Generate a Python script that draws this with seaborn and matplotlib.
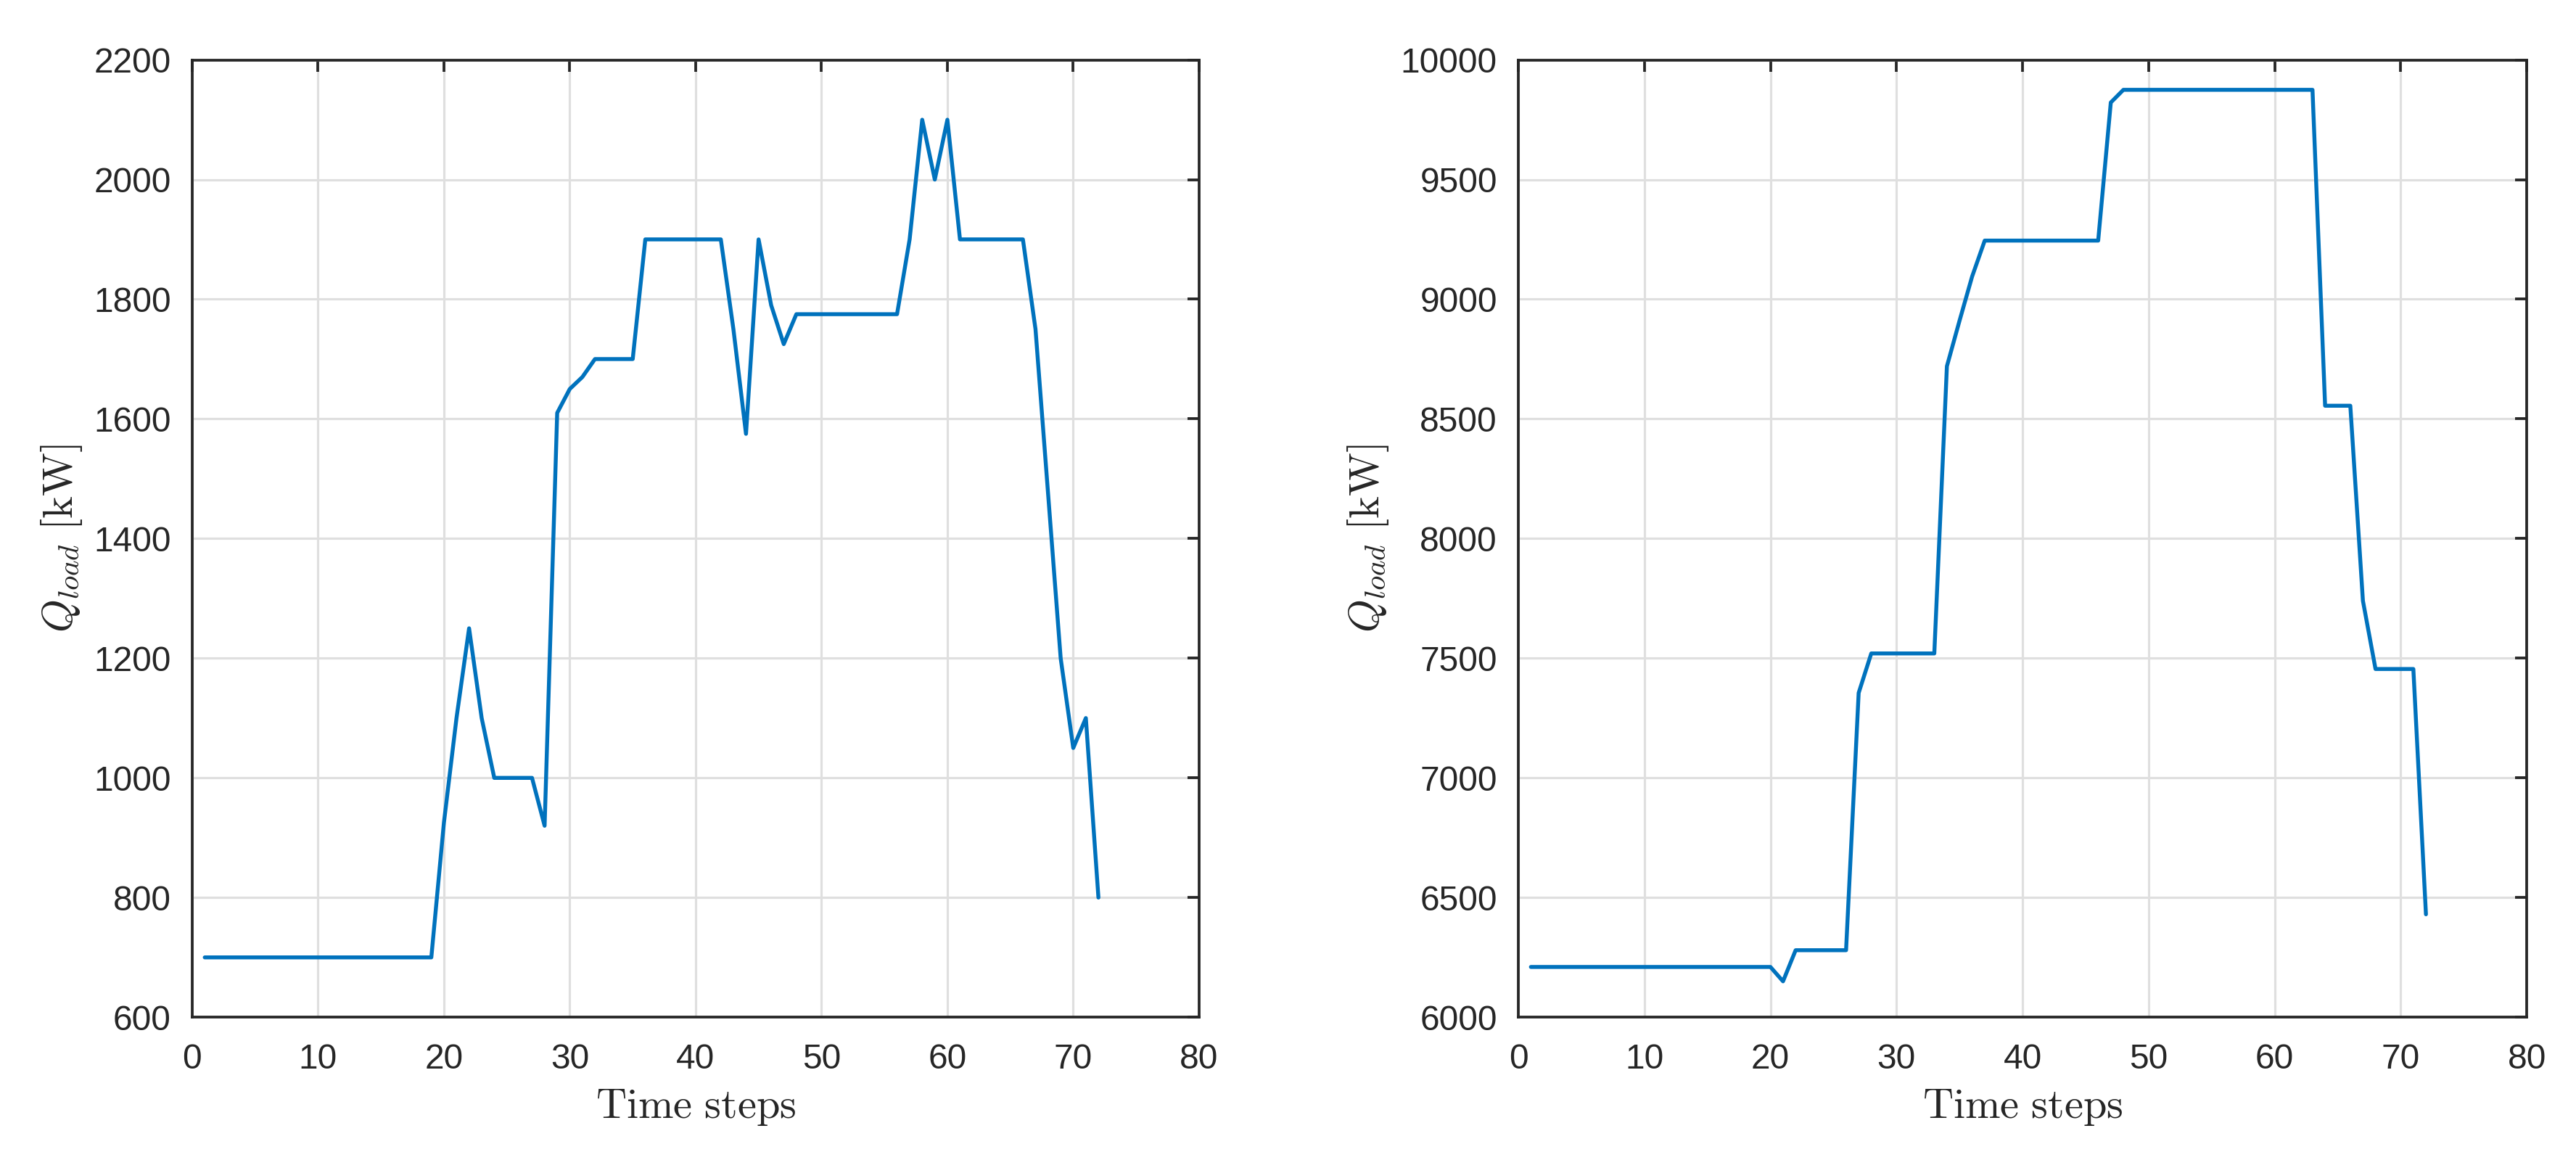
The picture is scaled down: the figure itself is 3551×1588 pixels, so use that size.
import numpy as np
import pandas as pd
import seaborn as sns
from matplotlib import pyplot as plt

# time steps 1..72
steps = list(range(1, 73))

# left panel: Q_load [kW]
q_left = [700] * 19 + [925, 1100, 1250, 1100, 1000, 1000, 1000, 1000, 920,
                       1610, 1650, 1670, 1700, 1700, 1700, 1700,
                       1900, 1900, 1900, 1900, 1900, 1900, 1900,
                       1750, 1575, 1900, 1790, 1725,
                       1775, 1775, 1775, 1775, 1775, 1775, 1775, 1775, 1775,
                       1900, 2100, 2000, 2100,
                       1900, 1900, 1900, 1900, 1900, 1900,
                       1750, 1475, 1200, 1050, 1100, 800]

# right panel: Q_load [kW]
q_right = [6210] * 20 + [6150, 6280, 6280, 6280, 6280, 6280, 7355,
                         7520, 7520, 7520, 7520, 7520, 7520,
                         8720, 8910, 9095, 9245, 9245, 9245, 9245, 9245,
                         9245, 9245, 9245, 9245, 9245, 9822] + [9875] * 16 + \
          [8555, 8555, 8555, 7740, 7455, 7455, 7455, 7455, 6430]

x_ticks = [0, 10, 20, 30, 40, 50, 60, 70, 80]
left_yticks = [600, 800, 1000, 1200, 1400, 1600, 1800, 2000, 2200]
right_yticks = [6000, 6500, 7000, 7500, 8000, 8500, 9000, 9500, 10000]

df_left = pd.DataFrame({'step': steps, 'q': q_left})
df_right = pd.DataFrame({'step': steps, 'q': q_right})

sns.set_style('white')
plt.rcParams['font.family'] = ['Liberation Sans', 'DejaVu Sans']
plt.rcParams['mathtext.fontset'] = 'cm'

fig = plt.figure(figsize=(3551 / 300, 1588 / 300), dpi=300)
ax1 = fig.add_axes([0.0746, 0.117, 0.3909, 0.831])
ax2 = fig.add_axes([0.5894, 0.117, 0.3915, 0.831])

panels = [(ax1, df_left, left_yticks), (ax2, df_right, right_yticks)]
for ax, d, yt in panels:
    sns.lineplot(data=d, x='step', y='q', ax=ax, color='#0072BD', linewidth=1.3)
    ax.set_xlim(0, 80)
    ax.set_ylim(yt[0], yt[-1])
    ax.set_xticks(x_ticks)
    ax.set_yticks(yt)
    ax.grid(True, color='#DFDFDF', linewidth=0.75)
    ax.set_axisbelow(True)
    for s in ax.spines.values():
        s.set_color('#262626')
        s.set_linewidth(0.9)
        s.set_visible(True)
    ax.tick_params(direction='in', length=3.8, width=0.9, color='#262626',
                   labelsize=11.5, labelcolor='#262626', top=True, right=True)
    ax.tick_params(axis='x', pad=8.5)
    ax.tick_params(axis='y', pad=7)
    ax.set_xlabel(r'$\mathrm{Time\ steps}$', fontsize=14, color='#262626',
                  labelpad=4)
    ax.set_ylabel(r'$Q_{load}\ [\mathrm{kW}]$', fontsize=14, color='#262626',
                  labelpad=3.2)

fig.savefig('out.png', dpi=300)
